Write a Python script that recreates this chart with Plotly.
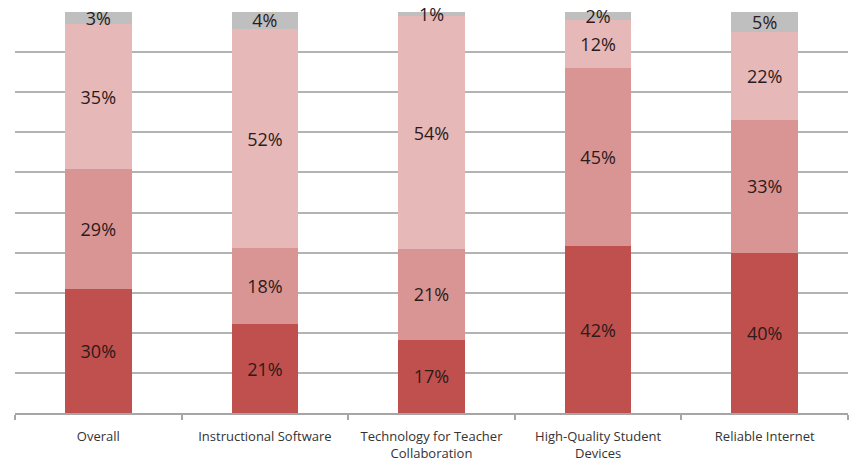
import plotly.graph_objects as go

categories = ["Overall", "Instructional Software", "Technology for Teacher<br>Collaboration",
              "High-Quality Student<br>Devices", "Reliable Internet"]
seg1 = [30, 21, 17, 42, 40]
seg2 = [29, 18, 21, 45, 33]
seg3 = [35, 52, 54, 12, 22]
seg4 = [3, 4, 1, 2, 5]
series = [seg1, seg2, seg3, seg4]
colors = ["#c0504d", "#d99594", "#e6b8b7", "#bfbfbf"]

fig = go.Figure()
for vals, col in zip(series, colors):
    fig.add_trace(go.Bar(
        x=categories, y=vals, marker=dict(color=col, line=dict(width=0)),
        text=[f"{v}%" for v in vals], textposition="inside", insidetextanchor="middle",
        textfont=dict(family="Open Sans", size=18, color="#2e1a1a"),
        showlegend=False, hoverinfo="skip", cliponaxis=False,
    ))

fig.update_layout(
    barmode="stack", barnorm="percent", bargap=0.6,
    width=859, height=463,
    margin=dict(l=15, r=11, t=12, b=50),
    paper_bgcolor="white", plot_bgcolor="white",
    uniformtext=dict(minsize=18, mode="show"),
    font=dict(family="Open Sans", color="#333333"),
)
fig.update_yaxes(range=[0, 100], dtick=10, showticklabels=False,
                 showgrid=True, gridcolor="#b3b3b3", gridwidth=1.5,
                 zeroline=False, showline=False, ticks="", automargin=False)
fig.update_xaxes(showline=True, linecolor="#a6a6a6", linewidth=1.5,
                 ticks="outside", tickson="boundaries", ticklen=5, tickcolor="#a6a6a6",
                 tickwidth=1.5, ticklabelstandoff=11, automargin=False,
                 tickfont=dict(family="Open Sans", size=13, color="#333333"),
                 showgrid=False)

fig.write_html("out.html", config={"displayModeBar": False},
               post_script="document.body.style.margin='0';document.body.style.overflow='hidden';")
